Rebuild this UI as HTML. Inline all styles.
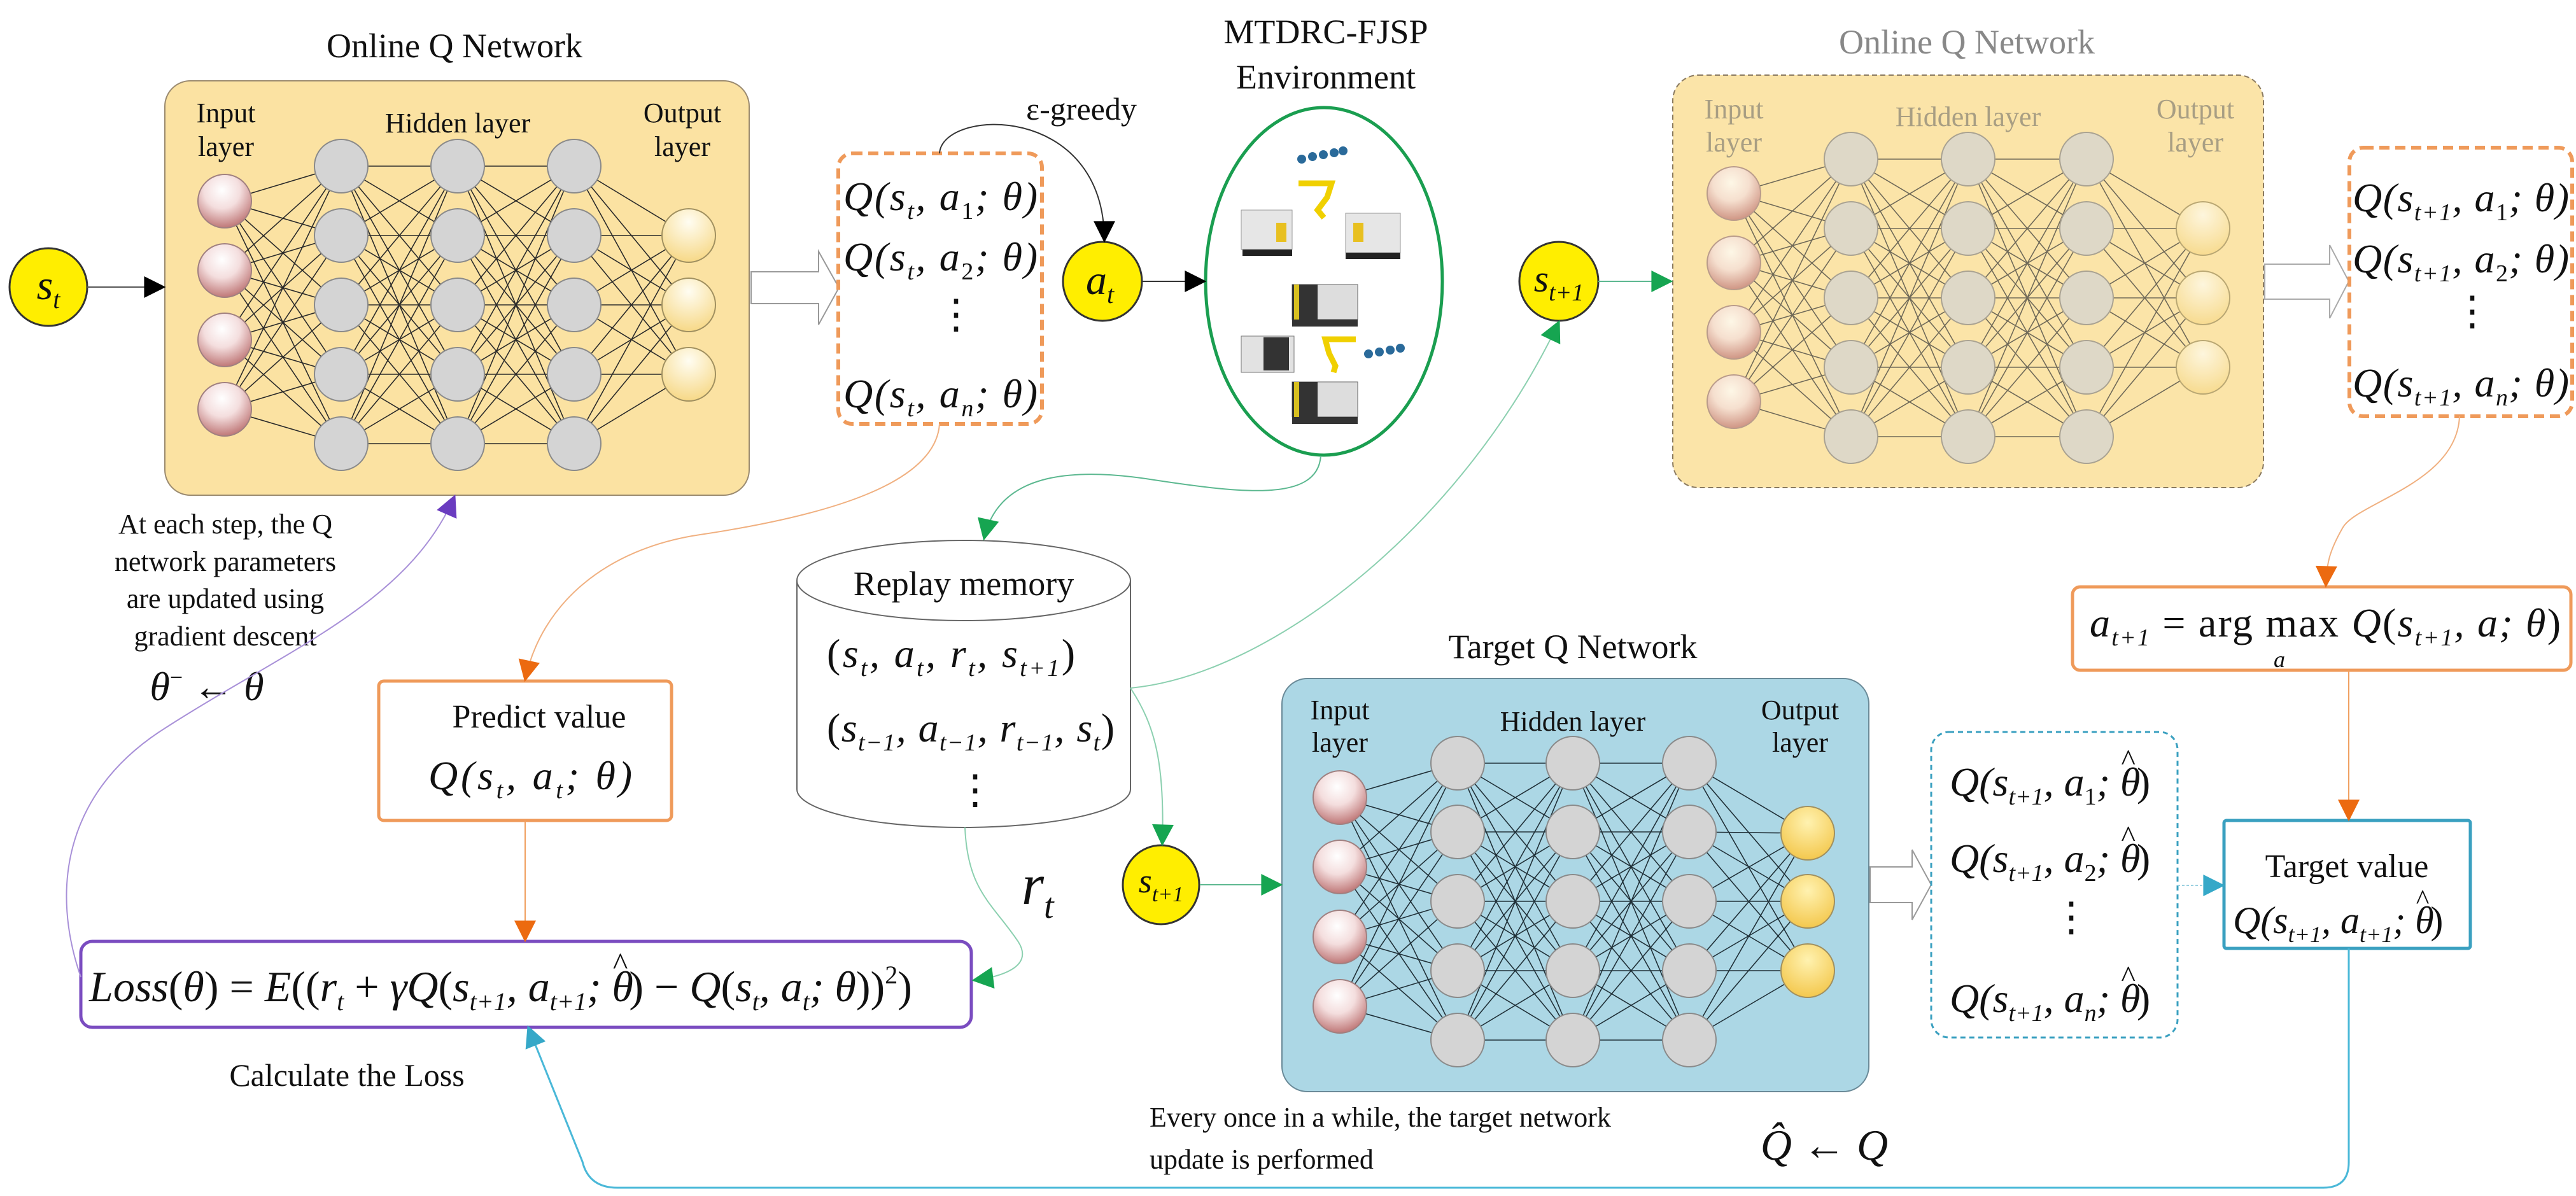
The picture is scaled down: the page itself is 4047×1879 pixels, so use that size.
<!DOCTYPE html>
<html><head><meta charset="utf-8"><style>
html,body{margin:0;padding:0;background:#fff}
svg{display:block}
text{font-family:"Liberation Serif",serif;fill:#111}
.m{font-style:italic}
.u{font-style:normal}
</style></head><body>
<svg id="s" width="4047" height="1879" viewBox="0 0 4047 1879" xmlns="http://www.w3.org/2000/svg">
<defs>
<radialGradient id="gin" cx="0.45" cy="0.3" r="0.75"><stop offset="0" stop-color="#ffffff"/><stop offset="0.45" stop-color="#f4dede"/><stop offset="1" stop-color="#b86a6a"/></radialGradient>
<radialGradient id="gout" cx="0.5" cy="0.25" r="0.8"><stop offset="0" stop-color="#fffdf2"/><stop offset="1" stop-color="#f6d680"/></radialGradient>
<radialGradient id="gout2" cx="0.5" cy="0.3" r="0.8"><stop offset="0" stop-color="#fff2b0"/><stop offset="1" stop-color="#f2c240"/></radialGradient>
<marker id="ab" viewBox="0 0 10 10" refX="9" refY="5" markerWidth="36" markerHeight="34" markerUnits="userSpaceOnUse" orient="auto"><path d="M0,0L10,5L0,10z" fill="#000"/></marker>
<marker id="ag" viewBox="0 0 10 10" refX="9" refY="5" markerWidth="36" markerHeight="34" markerUnits="userSpaceOnUse" orient="auto"><path d="M0,0L10,5L0,10z" fill="#16a551"/></marker>
<marker id="ao" viewBox="0 0 10 10" refX="9" refY="5" markerWidth="36" markerHeight="34" markerUnits="userSpaceOnUse" orient="auto"><path d="M0,0L10,5L0,10z" fill="#ec6a10"/></marker>
<marker id="ac" viewBox="0 0 10 10" refX="9" refY="5" markerWidth="36" markerHeight="34" markerUnits="userSpaceOnUse" orient="auto"><path d="M0,0L10,5L0,10z" fill="#35a8c8"/></marker>
<marker id="ap" viewBox="0 0 10 10" refX="9" refY="5" markerWidth="36" markerHeight="34" markerUnits="userSpaceOnUse" orient="auto"><path d="M0,0L10,5L0,10z" fill="#6a3cc0"/></marker>
</defs>

<rect x="259" y="127" width="918" height="651" rx="40" fill="#fbe2a2" stroke="#9a8a70" stroke-width="2"/>
<rect x="2628" y="118" width="928" height="648" rx="40" fill="#fbe4a8" stroke="#8a7a60" stroke-width="2" stroke-dasharray="8,5"/>
<rect x="2014" y="1066" width="922" height="649" rx="40" fill="#acd7e5" stroke="#6a8a98" stroke-width="2"/>
<g id="n1"></g><g id="n2" opacity="0.72"></g><g id="n3"></g>

<text x="714" y="90" font-size="54" text-anchor="middle">Online Q Network</text>
<text x="3090" y="84" font-size="54" text-anchor="middle" style="fill:#888">Online Q Network</text>
<text x="2471" y="1034" font-size="54" text-anchor="middle">Target Q Network</text>
<text x="2083" y="68" font-size="54" text-anchor="middle">MTDRC-FJSP</text>
<text x="2083" y="139" font-size="54" text-anchor="middle">Environment</text>
<text x="1699" y="188" font-size="50" text-anchor="middle">ε-greedy</text>

<g font-size="44" text-anchor="middle">
<text x="355" y="192">Input</text><text x="355" y="245">layer</text>
<text x="719" y="208">Hidden layer</text>
<text x="1072" y="192">Output</text><text x="1072" y="245">layer</text>
<g style="opacity:.55">
<text x="2724" y="186" style="fill:#666">Input</text><text x="2724" y="238" style="fill:#666">layer</text>
<text x="3092" y="198" style="fill:#666">Hidden layer</text>
<text x="3449" y="186" style="fill:#666">Output</text><text x="3449" y="238" style="fill:#666">layer</text>
</g>
<text x="2105" y="1130">Input</text><text x="2105" y="1181">layer</text>
<text x="2471" y="1148">Hidden layer</text>
<text x="2828" y="1130">Output</text><text x="2828" y="1181">layer</text>
</g>

<path d="M1180,427 L1286,427 L1286,395 L1318,452 L1286,510 L1286,477 L1180,477Z" fill="#fff" stroke="#999" stroke-width="2"/>
<path d="M3558,415 L3660,415 L3660,385 L3690,442 L3660,500 L3660,470 L3558,470Z" fill="#fff" stroke="#aaa" stroke-width="2"/>
<path d="M2938,1362 L3004,1362 L3004,1335 L3034,1390 L3004,1445 L3004,1418 L2938,1418Z" fill="#fff" stroke="#999" stroke-width="2"/>

<rect x="1317" y="241" width="320" height="425" rx="22" fill="#fff" stroke="#ef9a5a" stroke-width="6" stroke-dasharray="16,9"/>
<rect x="3691" y="232" width="350" height="422" rx="22" fill="#fff" stroke="#ef9a5a" stroke-width="6" stroke-dasharray="16,9"/>
<rect x="3034" y="1150" width="387" height="480" rx="28" fill="#fff" stroke="#3aa0c0" stroke-width="3" stroke-dasharray="8,6"/>

<g font-size="64" class="m">
<text x="1325" y="330" textLength="305">Q(s<tspan font-size="38" dy="14">t</tspan><tspan dy="-14">, a</tspan><tspan font-size="38" dy="14" class="u">1</tspan><tspan dy="-14">; θ)</tspan></text>
<text x="1325" y="425" textLength="305">Q(s<tspan font-size="38" dy="14">t</tspan><tspan dy="-14">, a</tspan><tspan font-size="38" dy="14" class="u">2</tspan><tspan dy="-14">; θ)</tspan></text>
<text x="1470" y="515" class="u">⋮</text>
<text x="1325" y="640" textLength="305">Q(s<tspan font-size="38" dy="14">t</tspan><tspan dy="-14">, a</tspan><tspan font-size="38" dy="14">n</tspan><tspan dy="-14">; θ)</tspan></text>

<text x="3696" y="332" textLength="340">Q(s<tspan font-size="38" dy="14">t+1</tspan><tspan dy="-14">, a</tspan><tspan font-size="38" dy="14" class="u">1</tspan><tspan dy="-14">; θ)</tspan></text>
<text x="3696" y="428" textLength="340">Q(s<tspan font-size="38" dy="14">t+1</tspan><tspan dy="-14">, a</tspan><tspan font-size="38" dy="14" class="u">2</tspan><tspan dy="-14">; θ)</tspan></text>
<text x="3852" y="510" class="u">⋮</text>
<text x="3696" y="623" textLength="340">Q(s<tspan font-size="38" dy="14">t+1</tspan><tspan dy="-14">, a</tspan><tspan font-size="38" dy="14">n</tspan><tspan dy="-14">; θ)</tspan></text>

<text x="3063" y="1250">Q(s<tspan font-size="38" dy="14">t+1</tspan><tspan dy="-14">, a</tspan><tspan font-size="38" dy="14" class="u">1</tspan><tspan dy="-14">; θ</tspan><tspan class="u" dx="-30" dy="-40" font-size="48">^</tspan><tspan class="u" dx="2" dy="40">)</tspan></text>
<text x="3063" y="1370">Q(s<tspan font-size="38" dy="14">t+1</tspan><tspan dy="-14">, a</tspan><tspan font-size="38" dy="14" class="u">2</tspan><tspan dy="-14">; θ</tspan><tspan class="u" dx="-30" dy="-40" font-size="48">^</tspan><tspan class="u" dx="2" dy="40">)</tspan></text>
<text x="3222" y="1462" class="u">⋮</text>
<text x="3063" y="1590">Q(s<tspan font-size="38" dy="14">t+1</tspan><tspan dy="-14">, a</tspan><tspan font-size="38" dy="14">n</tspan><tspan dy="-14">; θ</tspan><tspan class="u" dx="-30" dy="-40" font-size="48">^</tspan><tspan class="u" dx="2" dy="40">)</tspan></text>
</g>

<ellipse cx="76" cy="451" rx="61" ry="61" fill="#ffee00" stroke="#333" stroke-width="3"/>
<text x="76" y="470" font-size="66" class="m" text-anchor="middle">s<tspan font-size="40" dy="14">t</tspan></text>
<ellipse cx="1732" cy="442" rx="62" ry="62" fill="#ffee00" stroke="#333" stroke-width="3"/>
<text x="1728" y="462" font-size="66" class="m" text-anchor="middle">a<tspan font-size="40" dy="14">t</tspan></text>
<ellipse cx="2449" cy="442" rx="62" ry="62" fill="#ffee00" stroke="#333" stroke-width="3"/>
<text x="2449" y="458" font-size="60" class="m" text-anchor="middle">s<tspan font-size="38" dy="14">t+1</tspan></text>
<ellipse cx="1824" cy="1390" rx="60" ry="62" fill="#ffee00" stroke="#333" stroke-width="3"/>
<text x="1824" y="1402" font-size="54" class="m" text-anchor="middle">s<tspan font-size="34" dy="14">t+1</tspan></text>

<ellipse cx="2080" cy="442" rx="186" ry="273" fill="#fff" stroke="#1a9e50" stroke-width="5"/>
<g>
<g fill="#2a6a9a"><circle cx="2045" cy="250" r="7"/><circle cx="2062" cy="246" r="7"/><circle cx="2079" cy="243" r="7"/><circle cx="2096" cy="240" r="7"/><circle cx="2110" cy="237" r="7"/>
<circle cx="2150" cy="556" r="7"/><circle cx="2167" cy="553" r="7"/><circle cx="2184" cy="550" r="7"/><circle cx="2200" cy="547" r="7"/></g>
<path d="M2040,288 L2092,288 L2085,310 L2070,330 L2080,342" stroke="#f0d000" stroke-width="9" fill="none"/>
<path d="M2130,533 L2082,533 L2088,555 L2098,575 L2095,585" stroke="#f0d000" stroke-width="9" fill="none"/>
<rect x="1950" y="330" width="80" height="62" fill="#e6e6e6" stroke="#999"/><rect x="2005" y="350" width="16" height="30" fill="#e8c020"/><rect x="1952" y="392" width="78" height="10" fill="#222"/>
<rect x="2114" y="335" width="86" height="62" fill="#e6e6e6" stroke="#999"/><rect x="2126" y="350" width="16" height="30" fill="#e8c020"/><rect x="2114" y="397" width="86" height="10" fill="#222"/>
<rect x="2030" y="447" width="103" height="55" fill="#ddd" stroke="#666"/><rect x="2030" y="447" width="40" height="55" fill="#333"/><rect x="2033" y="447" width="8" height="55" fill="#d8c020"/><rect x="2030" y="502" width="103" height="11" fill="#333"/>
<rect x="1950" y="528" width="83" height="57" fill="#e2e2e2" stroke="#777"/><rect x="1985" y="530" width="40" height="52" fill="#333"/>
<rect x="2030" y="600" width="103" height="55" fill="#ddd" stroke="#666"/><rect x="2030" y="600" width="40" height="55" fill="#333"/><rect x="2033" y="600" width="8" height="55" fill="#d8c020"/><rect x="2030" y="655" width="103" height="11" fill="#333"/>
</g>

<path d="M1252,912 L1252,1240 A262,60 0 0 0 1776,1240 L1776,912" fill="#fff" stroke="#666" stroke-width="2"/>
<ellipse cx="1514" cy="912" rx="262" ry="63" fill="#fff" stroke="#666" stroke-width="2"/>
<text x="1514" y="935" font-size="54" text-anchor="middle">Replay memory</text>
<g font-size="64" class="m">
<text x="1299" y="1048" textLength="390"><tspan class="u">(</tspan>s<tspan font-size="38" dy="14">t</tspan><tspan dy="-14">, a</tspan><tspan font-size="38" dy="14">t</tspan><tspan dy="-14">, r</tspan><tspan font-size="38" dy="14">t</tspan><tspan dy="-14">, s</tspan><tspan font-size="38" dy="14">t+1</tspan><tspan dy="-14" class="u">)</tspan></text>
<text x="1299" y="1165" textLength="452"><tspan class="u">(</tspan>s<tspan font-size="38" dy="14">t−1</tspan><tspan dy="-14">, a</tspan><tspan font-size="38" dy="14">t−1</tspan><tspan dy="-14">, r</tspan><tspan font-size="38" dy="14">t−1</tspan><tspan dy="-14">, s</tspan><tspan font-size="38" dy="14">t</tspan><tspan dy="-14" class="u">)</tspan></text>
<text x="1500" y="1262" class="u">⋮</text>
</g>
<text x="1605" y="1420" font-size="90" class="m">r<tspan font-size="56" dy="22">t</tspan></text>

<rect x="595" y="1070" width="460" height="219" rx="8" fill="#fff" stroke="#ef9a5a" stroke-width="5"/>
<text x="847" y="1143" font-size="52" text-anchor="middle">Predict value</text>
<text x="673" y="1240" font-size="64" class="m" textLength="320">Q(s<tspan font-size="38" dy="14">t</tspan><tspan dy="-14">, a</tspan><tspan font-size="38" dy="14">t</tspan><tspan dy="-14">; θ)</tspan></text>

<rect x="127" y="1479" width="1399" height="135" rx="18" fill="#fff" stroke="#7a4cc0" stroke-width="5"/>
<text x="140" y="1573" font-size="68" class="m">Loss<tspan class="u">(</tspan>θ<tspan class="u">) = </tspan>E<tspan class="u">((</tspan>r<tspan font-size="40" dy="14">t</tspan><tspan dy="-14" class="u"> + </tspan>γQ<tspan class="u">(</tspan>s<tspan font-size="40" dy="14">t+1</tspan><tspan dy="-14">, a</tspan><tspan font-size="40" dy="14">t+1</tspan><tspan dy="-14">; θ</tspan><tspan class="u" dx="-32" dy="-42" font-size="50">^</tspan><tspan class="u" dx="2" dy="42">) − </tspan>Q<tspan class="u">(</tspan>s<tspan font-size="40" dy="14">t</tspan><tspan dy="-14">, a</tspan><tspan font-size="40" dy="14">t</tspan><tspan dy="-14">; θ</tspan><tspan class="u">))</tspan><tspan font-size="40" dy="-28" class="u">2</tspan><tspan dy="28" class="u">)</tspan></text>
<text x="545" y="1706" font-size="50" text-anchor="middle">Calculate the Loss</text>

<rect x="3256" y="922" width="783" height="131" rx="12" fill="#fff" stroke="#ef9a5a" stroke-width="5"/>
<text x="3283" y="1000" font-size="64" class="m" textLength="740">a<tspan font-size="38" dy="14">t+1</tspan><tspan dy="-14" class="u"> = arg max </tspan>Q<tspan class="u">(</tspan>s<tspan font-size="38" dy="14">t+1</tspan><tspan dy="-14">, a; θ</tspan><tspan class="u">)</tspan></text>
<text x="3572" y="1048" font-size="36" class="m">a</text>

<rect x="3494" y="1289" width="387" height="201" rx="4" fill="#fff" stroke="#3aa0c0" stroke-width="5"/>
<text x="3687" y="1378" font-size="52" text-anchor="middle">Target value</text>
<text x="3508" y="1466" font-size="60" class="m">Q(s<tspan font-size="36" dy="14">t+1</tspan><tspan dy="-14">, a</tspan><tspan font-size="36" dy="14">t+1</tspan><tspan dy="-14">; θ</tspan><tspan class="u" dx="-28" dy="-38" font-size="44">^</tspan><tspan class="u" dx="2" dy="38">)</tspan></text>

<g font-size="44" text-anchor="middle">
<text x="354" y="838">At each step, the Q</text>
<text x="354" y="897">network parameters</text>
<text x="354" y="955">are updated using</text>
<text x="354" y="1014">gradient descent</text>
</g>
<text x="325" y="1100" font-size="64" class="m" text-anchor="middle">θ<tspan font-size="36" dy="-24" class="u">−</tspan><tspan dy="24" class="u"> ← </tspan>θ</text>
<text x="1806" y="1770" font-size="44">Every once in a while, the target network</text>
<text x="1806" y="1836" font-size="44">update is performed</text>
<text x="2866" y="1822" font-size="68" class="m" text-anchor="middle">Q̂<tspan class="u"> ← </tspan>Q</text>

<g fill="none">
<line x1="137" y1="451" x2="257" y2="451" stroke="#555" stroke-width="2" marker-end="url(#ab)"/>
<path d="M1476,241 C1480,170 1735,160 1735,378" stroke="#333" stroke-width="2" marker-end="url(#ab)"/>
<line x1="1794" y1="442" x2="1892" y2="442" stroke="#333" stroke-width="2" marker-end="url(#ab)"/>
<line x1="2511" y1="442" x2="2625" y2="442" stroke="#5cb890" stroke-width="2" marker-end="url(#ag)"/>
<path d="M2075,716 C2070,790 1950,775 1800,752 C1650,730 1565,760 1546,846" stroke="#5cb890" stroke-width="2" marker-end="url(#ag)"/>
<path d="M1776,1081 C2000,1060 2300,820 2449,506" stroke="#8cd0b0" stroke-width="2" marker-end="url(#ag)"/>
<path d="M1776,1081 C1815,1140 1830,1200 1826,1326" stroke="#8cd0b0" stroke-width="2" marker-end="url(#ag)"/>
<path d="M1516,1300 C1520,1400 1560,1420 1600,1480 C1625,1520 1570,1535 1530,1540" stroke="#8cd0b0" stroke-width="2" marker-end="url(#ag)"/>
<line x1="1885" y1="1390" x2="2012" y2="1390" stroke="#5cb890" stroke-width="2" marker-end="url(#ag)"/>
<path d="M1476,666 C1470,760 1300,810 1100,840 C950,862 850,950 825,1068" stroke="#f0b080" stroke-width="2" marker-end="url(#ao)"/>
<line x1="825" y1="1289" x2="825" y2="1477" stroke="#f0a060" stroke-width="2" marker-end="url(#ao)"/>
<path d="M127,1535 C80,1400 100,1250 250,1150 C450,1020 640,950 714,780" stroke="#a890d8" stroke-width="2" marker-end="url(#ap)"/>
<path d="M3864,654 C3860,760 3700,790 3680,830 C3660,865 3655,885 3654,920" stroke="#f0b080" stroke-width="2" marker-end="url(#ao)"/>
<line x1="3690" y1="1053" x2="3690" y2="1287" stroke="#f0a060" stroke-width="2" marker-end="url(#ao)"/>
<line x1="3421" y1="1391" x2="3492" y2="1391" stroke="#9ad0e0" stroke-width="2" stroke-dasharray="4,3" marker-end="url(#ac)"/>
<path d="M3690,1490 L3690,1826 Q3690,1866 3650,1866 L970,1866 Q925,1866 915,1825 L830,1614" stroke="#4ab8d8" stroke-width="3" marker-end="url(#ac)"/>
</g>
</svg>
<script>
(function(){
var NS="http://www.w3.org/2000/svg";
function el(t,a,p){var e=document.createElementNS(NS,t);for(var k in a)e.setAttribute(k,a[k]);p.appendChild(e);return e;}
function net(id,xs,ins,hid,outs,og,lc){
 var g=document.getElementById(id);
 var cols=[{x:xs[0],ys:ins,f:"url(#gin)",s:"#a08080"},{x:xs[1],ys:hid,f:"#d4d4d4",s:"#8a8a8a"},{x:xs[2],ys:hid,f:"#d4d4d4",s:"#8a8a8a"},{x:xs[3],ys:hid,f:"#d4d4d4",s:"#8a8a8a"},{x:xs[4],ys:outs,f:og,s:"#a09060"}];
 for(var c=0;c<4;c++){var a=cols[c],b=cols[c+1];
  a.ys.forEach(function(y1){b.ys.forEach(function(y2){el("line",{x1:a.x,y1:y1,x2:b.x,y2:y2,stroke:lc,"stroke-width":1.6},g);});});}
 cols.forEach(function(c){c.ys.forEach(function(y){el("circle",{cx:c.x,cy:y,r:42,fill:c.f,stroke:c.s,"stroke-width":2},g);});});
}
net("n1",[353,536,719,902,1082],[316,425,534,643],[261,370,479,588,697],[370,479,588],"url(#gout)","#2a2a2a");
net("n2",[2724,2908,3092,3278,3461],[304,413,522,631],[250,359,468,577,686],[359,468,577],"url(#gout)","#3a3a3a");
net("n3",[2105,2290,2471,2654,2840],[1253,1362,1472,1581],[1199,1307,1416,1525,1634],[1309,1416,1525],"url(#gout2)","#203038");
})();
</script>
</body></html>
